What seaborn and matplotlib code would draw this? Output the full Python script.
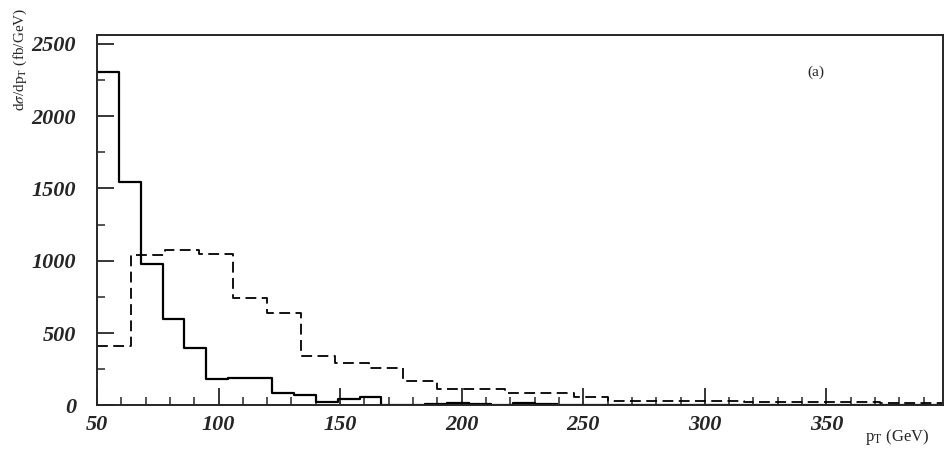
import numpy as np
import pandas as pd
import matplotlib
matplotlib.use("Agg")
import matplotlib.pyplot as plt
import seaborn as sns
from matplotlib.ticker import MultipleLocator

# solid histogram: 9 GeV bins starting at 50
solid_edges = list(range(50, 410, 9))
solid_vals = [2305, 1545, 980, 600, 395, 180, 190, 190, 88, 70,
              26, 47, 57, 3, 4, 12, 14, 13, 6, 15,
              12, 5, 4, 3, 3, 2, 4, 2, 2, 2,
              2, 2, 1, 2, 1, 1, 2, 1, 1]

# dashed histogram: 14 GeV bins starting at 50
dashed_edges = list(range(50, 401, 14))
dashed_vals = [412, 1040, 1073, 1048, 741, 640, 342, 295, 262, 166,
               114, 114, 84, 84, 57, 33, 30, 30, 28, 26,
               24, 22, 21, 19, 18]

x_ticks = [50, 100, 150, 200, 250, 300, 350]
y_ticks = [0, 500, 1000, 1500, 2000, 2500]

se = np.array(solid_edges)
de = np.array(dashed_edges)
solid_df = pd.DataFrame({"pt": (se[:-1] + se[1:]) / 2, "w": solid_vals})
dashed_df = pd.DataFrame({"pt": (de[:-1] + de[1:]) / 2, "w": dashed_vals})

sns.set_style("ticks")
plt.rcParams["font.family"] = ["Liberation Serif", "DejaVu Serif"]
plt.rcParams["mathtext.fontset"] = "stix"

fig = plt.figure(figsize=(9.45, 4.59), dpi=100)
ax = fig.add_axes([0.1026, 0.1166, 0.8954, 0.807])

sns.histplot(data=solid_df, x="pt", weights="w", bins=solid_edges,
             element="step", fill=False, color="black", linewidth=1.6, ax=ax)
sns.histplot(data=dashed_df, x="pt", weights="w", bins=dashed_edges,
             element="step", fill=False, color="black", linewidth=1.3,
             linestyle=(0, (6, 3)), ax=ax)

ax.set_xlim(50, 398)
ax.set_ylim(0, 2560)
ax.set_xticks(x_ticks)
ax.set_yticks(y_ticks)
ax.xaxis.set_minor_locator(MultipleLocator(10))
ax.yaxis.set_minor_locator(MultipleLocator(250))
ax.tick_params(which="major", direction="in", length=12, width=1.3)
ax.tick_params(which="minor", direction="in", length=6, width=1.1)
ax.tick_params(axis="both", labelsize=16)
ax.tick_params(axis="y", pad=15)
ax.tick_params(axis="x", pad=7)
for lab in ax.get_xticklabels() + ax.get_yticklabels():
    lab.set_fontstyle("italic")
    lab.set_fontweight("bold")
for sp in ax.spines.values():
    sp.set_visible(True)
    sp.set_linewidth(1.4)

ax.set_xlabel("")
ax.set_ylabel("")
fig.text(20 / 945, 1 - 8 / 459, r"d$\sigma$/dp$_{\rm T}$ (fb/GeV)",
         rotation=90, va="top", ha="center", fontsize=11)
fig.text(897 / 945, 1 - 437 / 459, r"p$_{\rm T}$ (GeV)",
         ha="center", va="center", fontsize=12)
ax.text(345.5, 2300, "(a)", ha="center", va="center", fontsize=11)

fig.savefig("out.png", dpi=100)
